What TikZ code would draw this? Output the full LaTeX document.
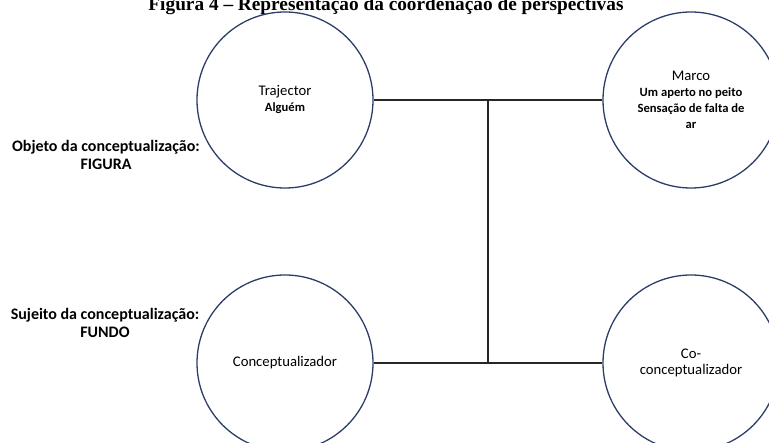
\documentclass[tikz,border=0pt]{standalone}
\usepackage{fontspec}
\setmainfont{Carlito}
\newfontfamily\titlefont{Liberation Serif}
\usetikzlibrary{calc}
\definecolor{contorno}{RGB}{44,62,104}
\newcommand\realce{\bfseries\fontsize{12.6}{14.5}\selectfont}

\begin{document}
\begin{tikzpicture}[x=1pt,y=-1pt,
   papel/.style={circle,draw=contorno,line width=1.3pt,minimum size=176pt,inner sep=0pt,align=center,font=\fontsize{14.7}{16}\selectfont},
   rotulo/.style={align=center,font=\bfseries\fontsize{16}{18.5}\selectfont},
   ligacao/.style={draw=black!85,line width=1.8pt}]
   \useasboundingbox (0,0) rectangle (769,443);
   \node[anchor=base,font=\titlefont\bfseries\fontsize{19.3}{22}\selectfont] (titulo) at (386,11) {Figura 4 – Representação da coordenação de perspectivas};
   \node[papel] (traj) at (285,100) {Trajector\\\realce Alguém};
   \node[papel] (marco) at (691,100) {Marco\\\realce Um aperto no peito\\\realce Sensação de falta de\\\realce ar};
   \node[papel] (conc) at (285,363) {Conceptualizador};
   \node[papel] (coconc) at (691,363) {Co-\\conceptualizador};
   \node[rotulo] (objeto) at (106,155) {Objeto da conceptualização:\\FIGURA};
   \node[rotulo] (sujeito) at (105,323) {Sujeito da conceptualização:\\FUNDO};
   \coordinate (meio1) at ($(traj)!0.5!(marco)$);
   \coordinate (meio2) at ($(conc)!0.5!(coconc)$);
   \draw[ligacao] (traj) -- (marco);
   \draw[ligacao] (conc) -- (coconc);
   \draw[ligacao] (meio1) -- (meio2);
\end{tikzpicture}
\end{document}
